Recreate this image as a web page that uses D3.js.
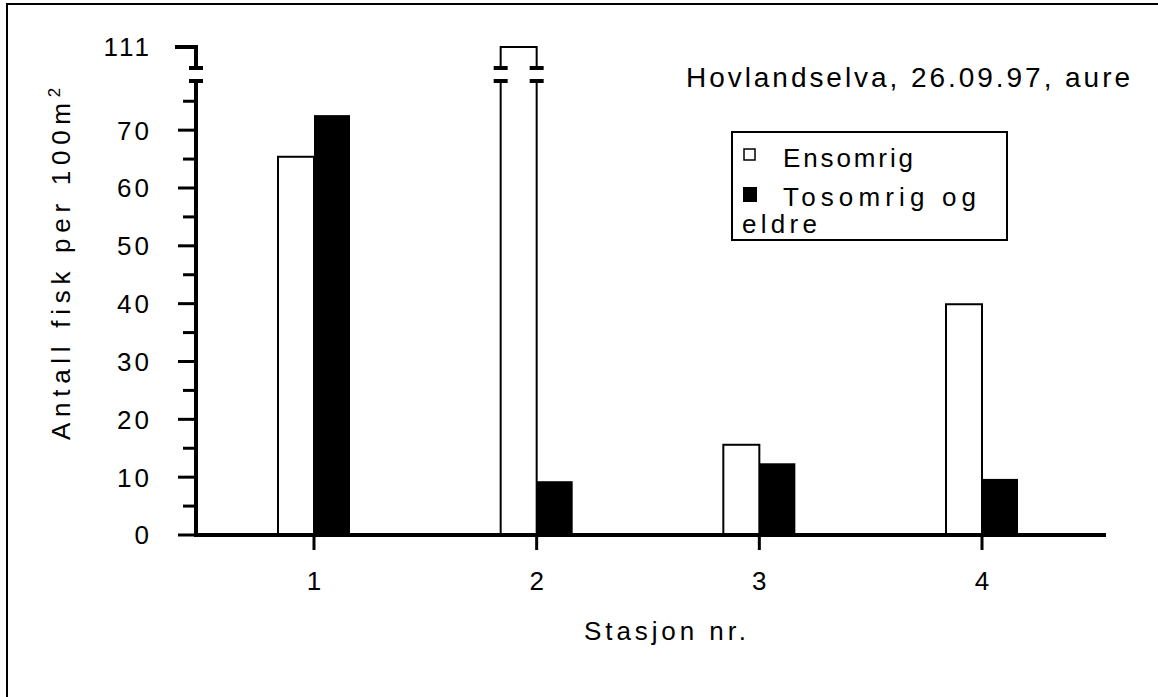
<!DOCTYPE html>
<html>
<head>
<meta charset="utf-8">
<script src="https://d3js.org/d3.v7.min.js"></script>
<style>
    body { margin: 0; background: #fff; }
    text { font-family: "Liberation Sans", Arial, sans-serif; fill: #000; }
</style>
</head>
<body>
<script>
// Data
var stations = ["1", "2", "3", "4"];
var ensomrig = [65.4, 111, 15.6, 39.9];
var tosomrig = [72.6, 9.3, 12.4, 9.7];
var majorTicks = [0, 10, 20, 30, 40, 50, 60, 70];
var minorTicks = [5, 15, 25, 35, 45, 55, 65, 75];
var topTick = 111;
var breakAt = 78.5;

var width = 1158, height = 697;

var svg = d3.select("body").append("svg")
    .attr("width", width)
    .attr("height", height);

// Outer frame (right and bottom edges run off the picture)
svg.append("rect")
    .attr("x", 7).attr("y", 4)
    .attr("width", 1300).attr("height", 900)
    .attr("fill", "none").attr("stroke", "#000").attr("stroke-width", 2);

// Broken y scale: 0..breakAt linear, then a short piece up to 111
var y = d3.scaleLinear()
    .domain([0, breakAt, topTick])
    .range([535, 81, 47]);

var x = d3.scalePoint()
    .domain(stations)
    .range([314, 982]);

var barW = 36;
var axisX = 196;

// Bars
var g = svg.append("g");
g.selectAll(".white")
    .data(ensomrig)
    .enter()
    .append("rect")
        .attr("class", "white")
        .attr("x", function(d, i) { return x(stations[i]) - barW; })
        .attr("y", function(d) { return y(d); })
        .attr("width", barW)
        .attr("height", function(d) { return y(0) - y(d); })
        .attr("fill", "#fff")
        .attr("stroke", "#000")
        .attr("stroke-width", 2);

g.selectAll(".black")
    .data(tosomrig)
    .enter()
    .append("rect")
        .attr("class", "black")
        .attr("x", function(d, i) { return x(stations[i]); })
        .attr("y", function(d) { return y(d); })
        .attr("width", barW)
        .attr("height", function(d) { return y(0) - y(d); })
        .attr("fill", "#000");

// Axis break gap (white band) over the axis and the tall bar
var gapTop = 68, gapBot = 81;
svg.append("rect")
    .attr("x", 180).attr("y", gapTop + 2)
    .attr("width", 380).attr("height", gapBot - gapTop - 4)
    .attr("fill", "#fff");

// Break caps on the y axis and on bars crossing the break
var breakXs = [axisX];
ensomrig.forEach(function(d, i) {
    if (d > breakAt) {
        breakXs.push(x(stations[i]) - barW);
        breakXs.push(x(stations[i]));
    }
});
[gapTop, gapBot].forEach(function(yy) {
    svg.selectAll(null)
        .data(breakXs)
        .enter()
        .append("line")
            .attr("x1", function(d) { return d - 7; })
            .attr("x2", function(d) { return d + 7; })
            .attr("y1", yy).attr("y2", yy)
            .attr("stroke", "#000").attr("stroke-width", 4);
});

// Y axis line (two pieces round the break)
svg.append("line")
    .attr("x1", axisX).attr("x2", axisX)
    .attr("y1", y(0) + 2).attr("y2", gapBot)
    .attr("stroke", "#000").attr("stroke-width", 4);
svg.append("line")
    .attr("x1", axisX).attr("x2", axisX)
    .attr("y1", gapTop).attr("y2", y(topTick) - 2)
    .attr("stroke", "#000").attr("stroke-width", 4);
// top tick for 111
svg.append("line")
    .attr("x1", 175).attr("x2", axisX + 2)
    .attr("y1", y(topTick)).attr("y2", y(topTick))
    .attr("stroke", "#000").attr("stroke-width", 4);

// Y ticks
svg.selectAll(".major")
    .data(majorTicks)
    .enter()
    .append("line")
        .attr("x1", 178).attr("x2", axisX)
        .attr("y1", function(d) { return y(d); })
        .attr("y2", function(d) { return y(d); })
        .attr("stroke", "#000").attr("stroke-width", 3);
svg.selectAll(".minor")
    .data(minorTicks)
    .enter()
    .append("line")
        .attr("x1", 183).attr("x2", axisX)
        .attr("y1", function(d) { return y(d); })
        .attr("y2", function(d) { return y(d); })
        .attr("stroke", "#000").attr("stroke-width", 3);

// Y tick labels
svg.selectAll(".ylab")
    .data(majorTicks.concat([topTick]))
    .enter()
    .append("text")
        .attr("x", 152)
        .attr("y", function(d) { return y(d); })
        .attr("dy", "0.36em")
        .attr("text-anchor", "end")
        .style("font-size", "26px")
        .style("letter-spacing", "3px")
        .text(function(d) { return d; });

// X axis line
svg.append("line")
    .attr("x1", axisX - 2).attr("x2", 1106)
    .attr("y1", y(0)).attr("y2", y(0))
    .attr("stroke", "#000").attr("stroke-width", 4);

// X ticks and labels
svg.selectAll(".xtick")
    .data(stations)
    .enter()
    .append("line")
        .attr("x1", function(d) { return x(d); })
        .attr("x2", function(d) { return x(d); })
        .attr("y1", y(0)).attr("y2", 550)
        .attr("stroke", "#000").attr("stroke-width", 3);
svg.selectAll(".xlab")
    .data(stations)
    .enter()
    .append("text")
        .attr("x", function(d) { return x(d); })
        .attr("y", 590)
        .attr("text-anchor", "middle")
        .style("font-size", "26px")
        .text(function(d) { return d; });

// Axis titles
svg.append("text")
    .attr("x", 665).attr("y", 640)
    .attr("text-anchor", "middle")
    .attr("textLength", 162)
    .style("font-size", "26px")
    .text("Stasjon nr.");

var yTitle = svg.append("text")
    .attr("transform", "translate(70,440) rotate(-90)")
    .style("font-size", "26px");
yTitle.append("tspan")
    .attr("textLength", 337)
    .attr("lengthAdjust", "spacing")
    .text("Antall fisk per 100m");
yTitle.append("tspan")
    .attr("dy", "-0.6em")
    .style("font-size", "17px")
    .text("2");

// Chart title
svg.append("text")
    .attr("x", 686).attr("y", 87)
    .attr("textLength", 444)
    .attr("lengthAdjust", "spacing")
    .style("font-size", "28px")
    .text("Hovlandselva, 26.09.97, aure");

// Legend
var legend = svg.append("g");
legend.append("rect")
    .attr("x", 732).attr("y", 132)
    .attr("width", 275).attr("height", 108)
    .attr("fill", "#fff").attr("stroke", "#000").attr("stroke-width", 2);
legend.append("rect")
    .attr("x", 744).attr("y", 149)
    .attr("width", 11).attr("height", 11)
    .attr("fill", "#fff").attr("stroke", "#000").attr("stroke-width", 1.5);
legend.append("rect")
    .attr("x", 743).attr("y", 187)
    .attr("width", 14).attr("height", 15)
    .attr("fill", "#000");
legend.append("text")
    .attr("x", 783).attr("y", 167)
    .attr("textLength", 130)
    .style("font-size", "26px")
    .text("Ensomrig");
legend.append("text")
    .attr("x", 783).attr("y", 206)
    .attr("textLength", 193)
    .style("font-size", "26px")
    .text("Tosomrig og");
legend.append("text")
    .attr("x", 742).attr("y", 233)
    .attr("textLength", 75)
    .style("font-size", "26px")
    .text("eldre");
</script>
</body>
</html>
